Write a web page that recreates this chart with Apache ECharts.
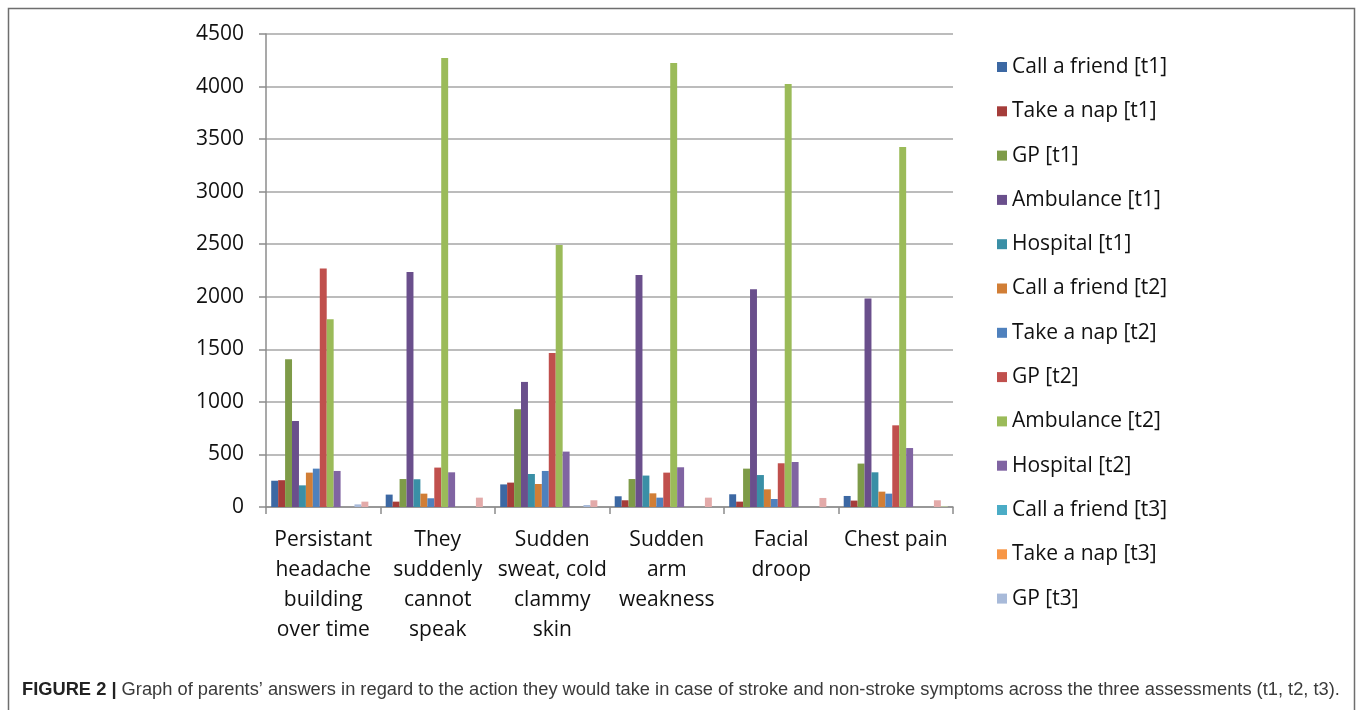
<!DOCTYPE html>
<html>
<head>
<meta charset="utf-8">
<style>
  html, body { margin: 0; padding: 0; background: #ffffff; }
  #chart { width: 1360px; height: 710px; }
</style>
<script src="https://cdn.jsdelivr.net/npm/echarts@6/dist/echarts.min.js"></script>
</head>
<body>
<div id="chart"></div>
<script>
// Symptom categories (line breaks as shown under the axis)
const categories = [
  'Persistant\nheadache\nbuilding\nover time',
  'They\nsuddenly\ncannot\nspeak',
  'Sudden\nsweat, cold\nclammy\nskin',
  'Sudden\narm\nweakness',
  'Facial\ndroop',
  'Chest pain'
];

// Value axis ticks
const yTicks = { min: 0, max: 4500, step: 500 };

// Answers per action and assessment
const callFriendT1 = [250, 118, 215, 102, 121, 105];
const takeNapT1    = [255, 51, 232, 64, 51, 61];
const gpT1         = [1405, 266, 930, 266, 365, 413];
const ambulanceT1  = [818, 2236, 1190, 2207, 2071, 1983];
const hospitalT1   = [206, 264, 314, 299, 304, 330];
const callFriendT2 = [327, 127, 219, 130, 168, 146];
const takeNapT2    = [365, 83, 343, 89, 76, 127];
const gpT2         = [2268, 375, 1465, 327, 416, 777];
const ambulanceT2  = [1786, 4272, 2493, 4224, 4025, 3425];
const hospitalT2   = [343, 330, 527, 378, 428, 561];
const callFriendT3 = [0, 0, 0, 0, 0, 0];
const takeNapT3    = [0, 0, 0, 0, 0, 0];
const gpT3         = [25, 0, 19, 0, 0, 0];
const ambulanceT3  = [51, 89, 64, 89, 86, 64];
const hospitalT3   = [0, 0, 0, 0, 0, 6];

const seriesNames = [
  'Call a friend [t1]', 'Take a nap [t1]', 'GP [t1]', 'Ambulance [t1]', 'Hospital [t1]',
  'Call a friend [t2]', 'Take a nap [t2]', 'GP [t2]', 'Ambulance [t2]', 'Hospital [t2]',
  'Call a friend [t3]', 'Take a nap [t3]', 'GP [t3]', 'Ambulance [t3]', 'Hospital [t3]'
];
const seriesValues = [
  callFriendT1, takeNapT1, gpT1, ambulanceT1, hospitalT1,
  callFriendT2, takeNapT2, gpT2, ambulanceT2, hospitalT2,
  callFriendT3, takeNapT3, gpT3, ambulanceT3, hospitalT3
];
// Only the first thirteen entries fit in the legend column
const legendNames = seriesNames.slice(0, 13);

const palette = [
  '#3C68A3', '#A53D3A', '#7E9B48', '#6A4F8C', '#3A8FA6', '#D17E36',
  '#4F81BD', '#C0504D', '#9BBB59', '#8064A2', '#4BACC6', '#F79646',
  '#A8BAD9', '#E3AAA9', '#CADAA6'
];

const FONT = "'Open Sans', 'Noto Sans', sans-serif";

const chart = echarts.init(document.getElementById('chart'), null, { renderer: 'canvas' });

chart.setOption({
  animation: false,
  backgroundColor: '#ffffff',
  color: palette,
  grid: { left: 266, right: 407, top: 34, bottom: 203, containLabel: false },
  legend: {
    data: legendNames,
    orient: 'vertical',
    left: 992,
    top: 50,
    itemWidth: 10,
    itemHeight: 10,
    itemGap: 20.3,
    icon: 'rect',
    textStyle: { fontFamily: FONT, fontSize: 21, color: '#111', lineHeight: 24 }
  },
  xAxis: {
    type: 'category',
    data: categories,
    axisLine: { lineStyle: { color: '#8c8c8c', width: 1.5 } },
    axisTick: { show: true, length: 7, lineStyle: { color: '#8c8c8c', width: 1.5 } },
    axisLabel: {
      interval: 0,
      margin: 18,
      fontFamily: FONT,
      fontSize: 21,
      lineHeight: 30,
      color: '#111',
      align: 'center'
    },
    splitLine: { show: false }
  },
  yAxis: {
    type: 'value',
    min: yTicks.min,
    max: yTicks.max,
    interval: yTicks.step,
    axisLine: { show: true, lineStyle: { color: '#8c8c8c', width: 1.5 } },
    axisTick: { show: true, length: 7, lineStyle: { color: '#8c8c8c', width: 1.5 } },
    axisLabel: {
      margin: 22,
      fontFamily: FONT,
      fontSize: 21,
      color: '#111',
      formatter: (v) => String(v)
    },
    splitLine: { show: true, lineStyle: { color: '#a6a6a6', width: 1.5 } }
  },
  series: seriesNames.map((name, i) => ({
    name: name,
    type: 'bar',
    data: seriesValues[i],
    barGap: '0%',
    barCategoryGap: '9.1%'
  })),
  graphic: [
    {
      type: 'rect',
      shape: { x: 8.5, y: 8.5, width: 1346, height: 720 },
      style: { fill: 'none', stroke: '#6e6e6e', lineWidth: 1.5 },
      silent: true
    },
    {
      type: 'text',
      left: 22,
      top: 681,
      style: {
        text: '{b|FIGURE 2 |} Graph of parents\u2019 answers in regard to the action they would take in case of stroke and non-stroke symptoms across the three assessments (t1, t2, t3).',
        fontFamily: "'Liberation Sans Narrow', 'Liberation Sans', sans-serif",
        fontSize: 18.3,
        fill: '#3a3a3a',
        rich: {
          b: { fontFamily: "'Liberation Sans Narrow', 'Liberation Sans', sans-serif", fontSize: 18.3, fontWeight: 'bold', fill: '#222' }
        }
      }
    }
  ]
});
</script>
</body>
</html>
